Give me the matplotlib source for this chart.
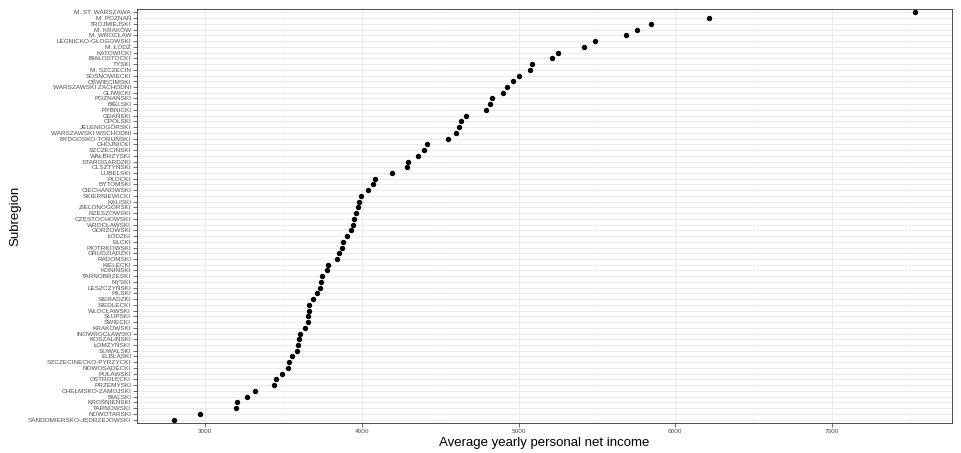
import matplotlib.pyplot as plt

# Subregions, sorted from highest to lowest income (top to bottom)
subregions = [
    "M. ST. WARSZAWA", "M. POZNAŃ", "TRÓJMIEJSKI", "M. KRAKÓW", "M. WROCŁAW",
    "LEGNICKO-GŁOGOWSKI", "M. ŁÓDŹ", "KATOWICKI", "BIAŁOSTOCKI", "TYSKI",
    "M. SZCZECIN", "SOSNOWIECKI", "OŚWIĘCIMSKI", "WARSZAWSKI ZACHODNI", "GLIWICKI",
    "POZNAŃSKI", "BIELSKI", "RYBNICKI", "GDAŃSKI", "OPOLSKI",
    "JELENIOGÓRSKI", "WARSZAWSKI WSCHODNI", "BYDGOSKO-TORUŃSKI", "CHOJNICKI", "SZCZECIŃSKI",
    "WAŁBRZYSKI", "STAROGARDZKI", "OLSZTYŃSKI", "LUBELSKI", "PŁOCKI",
    "BYTOMSKI", "CIECHANOWSKI", "SKIERNIEWICKI", "KALISKI", "ZIELONOGÓRSKI",
    "RZESZOWSKI", "CZĘSTOCHOWSKI", "WROCŁAWSKI", "GORZOWSKI", "ŁÓDZKI",
    "EŁCKI", "PIOTRKOWSKI", "GRUDZIĄDZKI", "RADOMSKI", "KIELECKI",
    "KONIŃSKI", "TARNOBRZESKI", "NYSKI", "LESZCZYŃSKI", "PILSKI",
    "SIERADZKI", "SIEDLECKI", "WŁOCŁAWSKI", "SŁUPSKI", "ŚWIECKI",
    "KRAKOWSKI", "INOWROCŁAWSKI", "KOSZALIŃSKI", "ŁOMŻYŃSKI", "SUWALSKI",
    "ELBLĄSKI", "SZCZECINECKO-PYRZYCKI", "NOWOSĄDECKI", "PUŁAWSKI", "OSTROŁĘCKI",
    "PRZEMYSKI", "CHEŁMSKO-ZAMOJSKI", "BIALSKI", "KROŚNIEŃSKI", "TARNOWSKI",
    "NOWOTARSKI", "SANDOMIERSKO-JĘDRZEJOWSKI",
]

income = [
    7530, 6218, 5843, 5758, 5686,
    5486, 5415, 5249, 5215, 5087,
    5075, 5000, 4964, 4928, 4902,
    4827, 4819, 4789, 4666, 4634,
    4617, 4602, 4546, 4417, 4398,
    4358, 4296, 4290, 4194, 4086,
    4073, 4038, 3996, 3983, 3973,
    3960, 3951, 3941, 3930, 3905,
    3879, 3875, 3851, 3841, 3785,
    3775, 3745, 3739, 3732, 3714,
    3686, 3661, 3659, 3656, 3655,
    3633, 3603, 3595, 3589, 3582,
    3550, 3533, 3530, 3488, 3450,
    3437, 3319, 3265, 3201, 3198,
    2967, 2800,
]

x_major = [3000, 4000, 5000, 6000, 7000]
x_minor = [3500, 4500, 5500, 6500, 7500]

plt.rcParams['font.family'] = ['Liberation Sans', 'DejaVu Sans']

fig, ax = plt.subplots(figsize=(9.61, 4.53), dpi=100)
fig.subplots_adjust(left=137 / 961, right=952 / 961, top=1 - 9 / 453, bottom=1 - 423 / 453)

pos = list(range(1, len(subregions) + 1))

# ggplot-like grid
for v in x_minor:
    ax.axvline(v, color='#EBEBEB', linewidth=0.35, zorder=0)
for v in x_major:
    ax.axvline(v, color='#EBEBEB', linewidth=0.7, zorder=0)
for p in pos:
    ax.axhline(p, color='#EBEBEB', linewidth=0.7, zorder=0)

ax.scatter(income, pos, s=15, color='black', zorder=3, linewidths=0)

# ggplot default expansions
span = max(income) - min(income)
ax.set_xlim(min(income) - 0.05 * span, max(income) + 0.05 * span)
ax.set_ylim(len(subregions) + 0.6, 0.4)

ax.set_xticks(x_major)
ax.set_xticklabels([str(v) for v in x_major])
ax.set_yticks(pos)
ax.set_yticklabels(subregions)

ax.tick_params(axis='both', colors='#333333', labelcolor='#4D4D4D', length=2.8,
               width=0.5, labelsize=4.6, pad=1.5)
for sp in ax.spines.values():
    sp.set_color('#333333')
    sp.set_linewidth(0.6)

ax.set_xlabel("Average yearly personal net income", fontsize=9.5, labelpad=2)
ax.set_ylabel("Subregion", fontsize=9.5, labelpad=5)

plt.savefig("out.png", dpi=100)
